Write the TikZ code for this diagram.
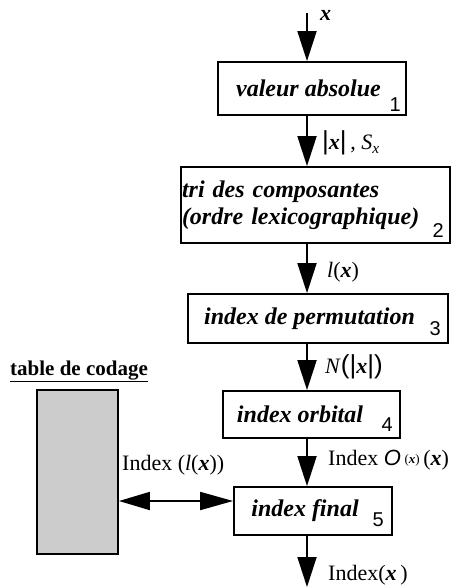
\documentclass[tikz,border=0pt]{standalone}
\usepackage{fontspec}
\setmainfont{Liberation Serif}
\setsansfont{Liberation Sans}
\usetikzlibrary{arrows.meta,positioning,calc}
\tikzset{
  stepbox/.style={draw, line width=1.8bp, inner sep=0pt,
    font=\fontsize{24bp}{27bp}\selectfont\bfseries\itshape},
  num/.style={inner sep=0pt, anchor=base east, font=\fontsize{20bp}{20bp}\selectfont\sffamily},
  lab/.style={inner sep=0pt, anchor=base west, font=\fontsize{22bp}{26bp}\selectfont},
  flow/.style={line width=1.8bp, -{Triangle[length=30bp,width=19bp]}},
  link/.style={line width=1.8bp, {Triangle[length=31bp,width=18bp]}-{Triangle[length=33bp,width=18bp]}},
}
\newcommand{\bx}{\textbf{\textit{x}}}
\begin{document}
\begin{tikzpicture}[x=1bp, y=-1bp]
  \useasboundingbox (0,0) rectangle (472,587);
  % chain of steps
  \node[stepbox, minimum width=188bp, minimum height=53bp] (b1) at (312,88.5) {valeur absolue\hspace*{7bp}};
  \node[stepbox, minimum width=269bp, minimum height=76bp, text width=267bp, align=left] (b2) at (315.5,205)
    {tri des composantes\\(ordre lexicographique)};
  \node[stepbox, minimum width=260bp, minimum height=49bp] (b3) at (318,318.5) {index de permutation\hspace*{17bp}};
  \node[stepbox, minimum width=177bp, minimum height=47bp] (b4) at (311.5,414.5) {index orbital\hspace*{23bp}};
  \node[stepbox, minimum width=158bp, minimum height=48bp] (b5) at (313,511) {index final\hspace*{16bp}};
  % step numbers
  \node[num] (n1) at ([shift={(-6bp,4bp)}]b1.south east) {1};
  \node[num] (n2) at ([shift={(-7bp,6bp)}]b2.south east) {2};
  \node[num] (n3) at ([shift={(-8bp,8bp)}]b3.south east) {3};
  \node[num] (n4) at ([shift={(-8bp,7bp)}]b4.south east) {4};
  \node[num] (n5) at ([shift={(-9bp,9bp)}]b5.south east) {5};
  % coding table
  \node[draw, line width=1.8bp, fill=black!20, minimum width=81bp, minimum height=164bp] (tab) at (77.5,472) {};
  \node[inner sep=0pt, anchor=base, font=\fontsize{21bp}{24bp}\selectfont\bfseries] (tabname) at (79,375) {\underline{table de codage}};
  % arrows
  \coordinate (in) at (307,13);
  \coordinate (out) at (307,587);
  \draw[flow] (in) -- (b1.north -| in);
  \draw[flow] (b1.south -| in) -- (b2.north -| in);
  \draw[flow] (b2.south -| in) -- (b3.north -| in);
  \draw[flow] (b3.south -| in) -- (b4.north -| in);
  \draw[flow] (b4.south -| in) -- (b5.north -| in);
  \draw[flow] (b5.south -| in) -- (out);
  \coordinate (lk) at ([yshift=10bp]b5.west);
  \draw[link] (tab.east |- lk) -- (lk);
  % labels
  \node[lab] (lx) at (320,21) {\bx};
  \node[lab] (labs) at (322,150) {\textsf{\fontsize{26bp}{26bp}\selectfont|}\bx\textsf{\fontsize{26bp}{26bp}\selectfont|}\,, \textit{S}\textsubscript{\textit{x}}};
  \node[lab] (llx) at (327,277) {\textit{l}(\bx)};
  \node[lab] (lnx) at (325,373) {\textit{N}\textsf{\fontsize{26bp}{26bp}\selectfont(|}\bx\textsf{\fontsize{26bp}{26bp}\selectfont|)}};
  \node[lab] (lorb) at (328,465) {Index \textsf{\textit{O}}\,\raisebox{2bp}{\fontsize{13bp}{13bp}\selectfont(\bx)}\,(\bx)};
  \node[lab] (ltab) at (122,470) {Index (\textit{l}(\bx))};
  \node[lab] (lfin) at (328,580) {Index(\bx\,)};
\end{tikzpicture}
\end{document}
